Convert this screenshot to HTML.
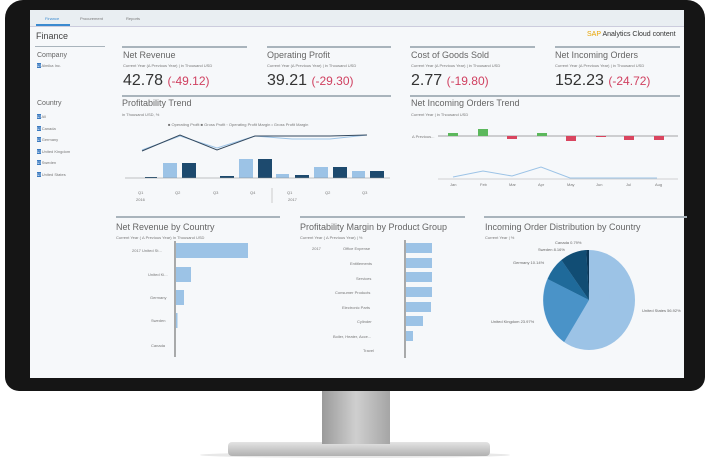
<!DOCTYPE html><html><head><style>
body{margin:0;width:708px;height:458px;background:#fff;position:relative;overflow:hidden;font-family:"Liberation Sans",sans-serif;color:#555}
.a{position:absolute}
.t{font-size:9px;color:#666;white-space:nowrap}
.s{font-size:4px;color:#777;white-space:nowrap}
.v{font-size:16px;color:#333}
.r{color:#d04060}
.ln{height:2px;background:#a9b4bc}
</style></head><body>
<div class="a" style="left:200px;top:452px;width:310px;height:6px;background:#e8e8e8;border-radius:50%"></div>
<div class="a" style="left:228px;top:442px;width:262px;height:14px;background:linear-gradient(#e4e4e4,#b0b0b0);border-radius:4px"></div>
<div class="a" style="left:322px;top:386px;width:68px;height:58px;background:linear-gradient(90deg,#9a9a9a,#cfcfcf,#a5a5a5)"></div>
<div class="a" style="left:5px;top:0;width:700px;height:391px;background:#151515;border-radius:18px 18px 14px 14px"></div>
<div class="a" style="left:30px;top:10px;width:654px;height:368px;background:#f6f8fa"></div>
<div class="a" style="left:30px;top:10px;width:654px;height:16px;background:#e9eef2;border-bottom:1px solid #ccd"></div>
<div class="a s" style="left:45px;top:16px;color:#3a8ad0">Finance</div>
<div class="a" style="left:36px;top:24px;width:34px;height:2px;background:#3a8ad0"></div>
<div class="a s" style="left:80px;top:16px">Procurement</div>
<div class="a s" style="left:126px;top:16px">Reports</div>
<div class="a t" style="left:36px;top:31px;color:#444">Finance</div>
<div class="a t" style="left:587px;top:31px;font-size:7px;color:#333"><span style="color:#e8a400">SAP</span> Analytics Cloud content</div>
<div class="a ln" style="left:35px;top:46px;width:70px;height:1px"></div>
<div class="a t" style="left:37px;top:52px;font-size:7px">Company</div>
<div class="a s" style="left:37px;top:63px"><span style="background:#3a7ac0;color:#fff">☑</span> Almika Inc.</div>
<div class="a t" style="left:37px;top:100px;font-size:7px">Country</div>
<div class="a s" style="left:37px;top:111px;line-height:11.6px"><span style="background:#3a7ac0;color:#fff">☑</span> All<br><span style="background:#3a7ac0;color:#fff">☑</span> Canada<br><span style="background:#3a7ac0;color:#fff">☑</span> Germany<br><span style="background:#3a7ac0;color:#fff">☑</span> United Kingdom<br><span style="background:#3a7ac0;color:#fff">☑</span> Sweden<br><span style="background:#3a7ac0;color:#fff">☑</span> United States</div>

<div class="a ln" style="left:122px;top:46px;width:125px"></div>
<div class="a t" style="left:123px;top:50px">Net Revenue</div>
<div class="a s" style="left:123px;top:63px">Current Year (Δ Previous Year) | in Thousand USD</div>
<div class="a v" style="left:123px;top:72px">42.78 <span class="r" style="font-size:12px">(-49.12)</span></div>
<div class="a ln" style="left:267px;top:46px;width:124px"></div>
<div class="a t" style="left:267px;top:50px">Operating Profit</div>
<div class="a s" style="left:267px;top:63px">Current Year (Δ Previous Year) | in Thousand USD</div>
<div class="a v" style="left:267px;top:72px">39.21 <span class="r" style="font-size:12px">(-29.30)</span></div>
<div class="a ln" style="left:410px;top:46px;width:125px"></div>
<div class="a t" style="left:411px;top:50px">Cost of Goods Sold</div>
<div class="a s" style="left:411px;top:63px">Current Year (Δ Previous Year) | in Thousand USD</div>
<div class="a v" style="left:411px;top:72px">2.77 <span class="r" style="font-size:12px">(-19.80)</span></div>
<div class="a ln" style="left:555px;top:46px;width:125px"></div>
<div class="a t" style="left:555px;top:50px">Net Incoming Orders</div>
<div class="a s" style="left:555px;top:63px">Current Year (Δ Previous Year) | in Thousand USD</div>
<div class="a v" style="left:555px;top:72px">152.23 <span class="r" style="font-size:12px">(-24.72)</span></div>

<div class="a ln" style="left:122px;top:95px;width:269px"></div>
<div class="a t" style="left:122px;top:98px">Profitability Trend</div>
<div class="a s" style="left:122px;top:112px">in Thousand USD, %</div>
<div class="a ln" style="left:410px;top:95px;width:270px"></div>
<div class="a t" style="left:411px;top:98px">Net Incoming Orders Trend</div>
<div class="a s" style="left:411px;top:112px">Current Year | in Thousand USD</div>
<svg class="a" style="left:0;top:0" width="708" height="458">
<g fill="#9cc3e6"><rect x="163" y="163" width="14" height="15"/><rect x="239" y="159" width="14" height="19"/><rect x="276" y="174" width="13" height="4"/><rect x="314" y="167" width="14" height="11"/><rect x="352" y="171" width="13" height="7"/></g>
<g fill="#1d4a6e"><rect x="182" y="163" width="14" height="15"/><rect x="258" y="159" width="14" height="19"/><rect x="220" y="176" width="14" height="2"/><rect x="295" y="175" width="14" height="3"/><rect x="333" y="167" width="14" height="11"/><rect x="370" y="171" width="14" height="7"/><rect x="145" y="177" width="12" height="1"/></g>
<line x1="125" y1="178" x2="390" y2="178" stroke="#888" stroke-width=".6"/>
<polyline points="142,150 180,136 217,148 255,136 292,139 330,139 367,135" fill="none" stroke="#9cc3e6" stroke-width="1"/>
<polyline points="142,151 180,135 217,150 255,136 292,136 330,136 367,135" fill="none" stroke="#34495e" stroke-width="1"/>
<line x1="272" y1="188" x2="272" y2="203" stroke="#ccc"/>
<g font-size="4" fill="#777"><text x="138" y="194">Q1</text><text x="175" y="194">Q2</text><text x="213" y="194">Q3</text><text x="250" y="194">Q4</text><text x="287" y="194">Q1</text><text x="325" y="194">Q2</text><text x="362" y="194">Q3</text><text x="136" y="201">2016</text><text x="288" y="201">2017</text>
<text x="168" y="126">■ Operating Profit  ■ Gross Profit  ◦ Operating Profit Margin  • Gross Profit Margin</text></g>
<line x1="438" y1="136" x2="678" y2="136" stroke="#888" stroke-width=".7"/>
<g fill="#5cb85c"><rect x="448" y="133" width="10" height="3"/><rect x="478" y="129" width="10" height="7"/><rect x="537" y="133" width="10" height="3"/></g>
<g fill="#d9455f"><rect x="507" y="136" width="10" height="3"/><rect x="566" y="136" width="10" height="5"/><rect x="596" y="136" width="10" height="1"/><rect x="624" y="136" width="10" height="4"/><rect x="654" y="136" width="10" height="4"/></g>
<polyline points="453,177 483,171 512,176 541,167 570,178 599,178 628,178 657,178" fill="none" stroke="#9cc3e6" stroke-width="1"/>
<line x1="438" y1="179" x2="678" y2="179" stroke="#aaa" stroke-width=".6"/>
<g font-size="4" fill="#777"><text x="450" y="186">Jan</text><text x="480" y="186">Feb</text><text x="509" y="186">Mar</text><text x="538" y="186">Apr</text><text x="567" y="186">May</text><text x="596" y="186">Jun</text><text x="626" y="186">Jul</text><text x="655" y="186">Aug</text><text x="412" y="138">Δ Previous...</text></g>

<rect x="116" y="216" width="164" height="2" fill="#a9b4bc"/><rect x="300" y="216" width="165" height="2" fill="#a9b4bc"/><rect x="484" y="216" width="203" height="2" fill="#a9b4bc"/>
<g fill="#666" font-size="9"><text x="116" y="230">Net Revenue by Country</text><text x="300" y="230">Profitability Margin by Product Group</text><text x="485" y="230">Incoming Order Distribution by Country</text></g>
<g fill="#777" font-size="4"><text x="116" y="239">Current Year ( Δ Previous Year) In Thousand USD</text><text x="300" y="239">Current Year ( Δ Previous Year) | %</text><text x="485" y="239">Current Year | %</text>
<text x="132" y="252">2017  United St...</text><text x="148" y="276">United Ki...</text><text x="150" y="299">Germany</text><text x="151" y="322">Sweden</text><text x="151" y="347">Canada</text>
<text x="312" y="250">2017</text><text x="343" y="250">Office Expense</text><text x="350" y="265">Entitlements</text><text x="356" y="280">Services</text><text x="335" y="294">Consumer Products</text><text x="342" y="309">Electronic Parts</text><text x="357" y="323">Cylinder</text><text x="333" y="338">Boiler, Heater, Acce...</text><text x="363" y="352">Travel</text></g>
<line x1="175" y1="241" x2="175" y2="357" stroke="#333" stroke-width=".8"/>
<g fill="#9cc3e6"><rect x="176" y="243" width="72" height="15"/><rect x="176" y="267" width="15" height="15"/><rect x="176" y="290" width="8" height="15"/><rect x="176" y="313" width="1.5" height="15"/></g>
<line x1="405" y1="240" x2="405" y2="358" stroke="#333" stroke-width=".8"/>
<g fill="#9cc3e6"><rect x="406" y="243" width="26" height="10"/><rect x="406" y="258" width="26" height="10"/><rect x="406" y="272" width="26" height="10"/><rect x="406" y="287" width="26" height="10"/><rect x="406" y="302" width="25" height="10"/><rect x="406" y="316" width="17" height="10"/><rect x="406" y="331" width="7" height="10"/></g>
<g transform="translate(589,300) scale(0.92,1)">
<circle r="50" fill="#9cc3e6"/>
<path d="M0,0 L0,-50 A50,50 0 0 1 -27,42 Z" fill="#9cc3e6"/>
<path d="M0,0 L-27,42 A50,50 0 0 1 -45,-21 Z" fill="#4a93c8"/>
<path d="M0,0 L-45,-21 A50,50 0 0 1 -30,-40 Z" fill="#1f6a9a"/>
<path d="M0,0 L-30,-40 A50,50 0 0 1 -3,-50 Z" fill="#114d74"/>
<path d="M0,0 L-3,-50 A50,50 0 0 1 0,-50 Z" fill="#0b3656"/>
</g>
<g fill="#666" font-size="4"><text x="555" y="244">Canada 0.79%</text><text x="538" y="251">Sweden 8.16%</text><text x="513" y="264">Germany 10.14%</text><text x="491" y="323">United Kingdom 23.97%</text><text x="642" y="312">United States 56.92%</text></g>
</svg>
</body></html>
